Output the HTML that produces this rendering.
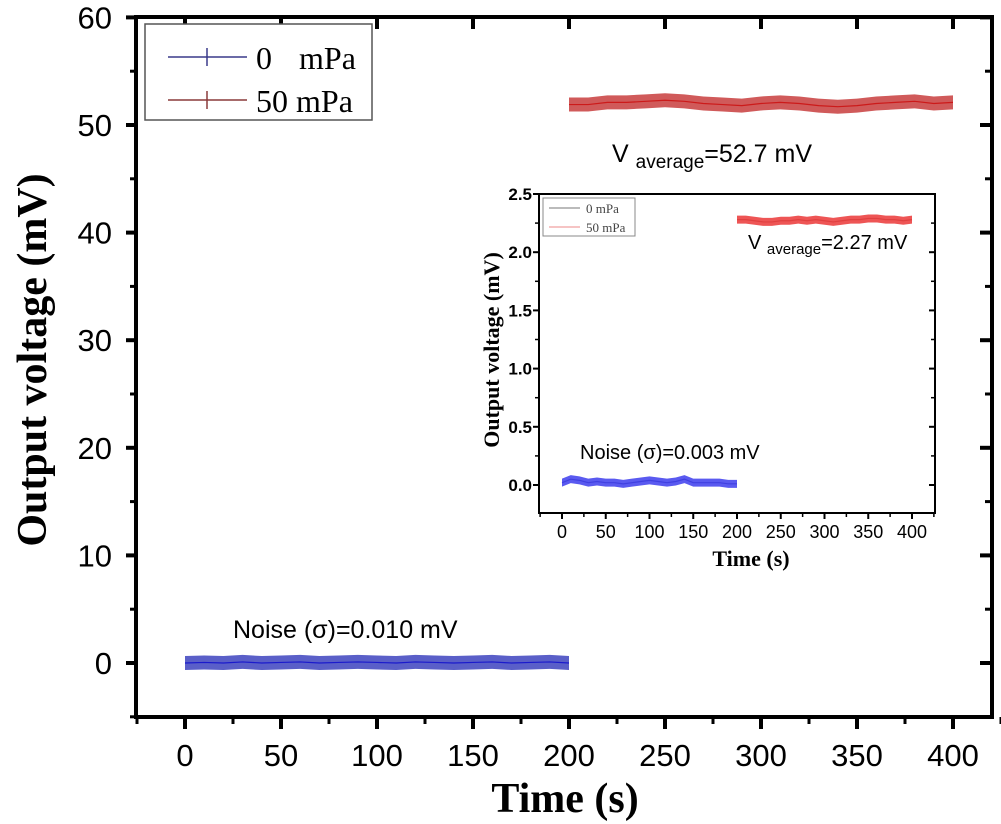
<!DOCTYPE html>
<html><head><meta charset="utf-8"><style>
body{margin:0;background:#fff;}
svg{display:block;font-family:"Liberation Sans",sans-serif;}
</style></head><body>
<svg id="c" width="1001" height="824" xmlns="http://www.w3.org/2000/svg"></svg>
<script>
const timeA=[0,10,20,30,40,50,60,70,80,90,100,110,120,130,140,150,160,170,180,190,200];
const timeB=[200,210,220,230,240,250,260,270,280,290,300,310,320,330,340,350,360,370,380,390,400];
const main0=[0,0.05,0,0.1,0,0.05,0.1,0,0.05,0.1,0.05,0,0.1,0.05,0,0.05,0.1,0,0.05,0.1,0];
const main50=[51.9,51.9,52.1,52.1,52.2,52.3,52.2,52.0,51.9,51.8,52.0,52.1,52.0,51.8,51.7,51.8,52.0,52.1,52.2,52.0,52.1];
const ins0=[0.02,0.05,0.04,0.02,0.03,0.02,0.02,0.01,0.02,0.03,0.04,0.03,0.02,0.03,0.05,0.02,0.02,0.02,0.02,0.01,0.01];
const ins50=[2.28,2.28,2.27,2.26,2.26,2.27,2.27,2.28,2.27,2.28,2.27,2.26,2.27,2.28,2.28,2.29,2.29,2.28,2.28,2.27,2.28];
const xTicks=[0,50,100,150,200,250,300,350,400];
const yTicksMain=[0,10,20,30,40,50,60];
const yTicksIns=[0.0,0.5,1.0,1.5,2.0,2.5];

const svg=document.getElementById('c');
const NS='http://www.w3.org/2000/svg';
function mk(tag,attrs,parent){const e=document.createElementNS(NS,tag);for(const k in attrs)e.setAttribute(k,attrs[k]);(parent||svg).appendChild(e);return e;}
function txt(s,attrs,parent){const e=mk('text',attrs,parent);e.textContent=s;return e;}

const mx=t=>185+t*(953-185)/400;
const my=v=>663-v*(663-17.4)/60;
const inx=t=>562+t*(912-562)/400;
const iny=v=>485-v*(485-194)/2.5;

function band(xs,ys,fx,fy,half,fill,line,name){
  let top=xs.map((t,i)=>fx(t)+','+(fy(ys[i])-half));
  let bot=xs.map((t,i)=>fx(t)+','+(fy(ys[i])+half)).reverse();
  const p=mk('polygon',{points:top.concat(bot).join(' '),fill:fill,stroke:'none'});
  
  
  const l=mk('polyline',{points:xs.map((t,i)=>fx(t)+','+fy(ys[i])).join(' '),fill:'none',stroke:line,'stroke-width':1.2});
  
  
}

const fr=mk('rect',{x:136,y:17,width:856,height:700,fill:'none',stroke:'#000','stroke-width':4});


xTicks.forEach(t=>{
  mk('line',{x1:mx(t),y1:717,x2:mx(t),y2:729,stroke:'#000','stroke-width':4});
  mk('line',{x1:mx(t),y1:17,x2:mx(t),y2:29,stroke:'#000','stroke-width':4});
  mk('line',{x1:mx(t+25),y1:717,x2:mx(t+25),y2:724,stroke:'#000','stroke-width':3});
  const l=txt(t,{x:mx(t),y:766,'font-size':31,'text-anchor':'middle'});
  
  
});
mk('line',{x1:mx(-25),y1:717,x2:mx(-25),y2:724,stroke:'#000','stroke-width':3});
yTicksMain.forEach(v=>{
  mk('line',{x1:136,y1:my(v),x2:126,y2:my(v),stroke:'#000','stroke-width':4});
  mk('line',{x1:992,y1:my(v),x2:980,y2:my(v),stroke:'#000','stroke-width':4});
  if(v<60){mk('line',{x1:136,y1:my(v+5),x2:130,y2:my(v+5),stroke:'#000','stroke-width':3});mk('line',{x1:992,y1:my(v+5),x2:985,y2:my(v+5),stroke:'#000','stroke-width':3});}
  const l=txt(v,{x:112,y:my(v)+11,'font-size':31,'text-anchor':'end'});
  
  
});
mk('line',{x1:136,y1:my(-5),x2:130,y2:my(-5),stroke:'#000','stroke-width':3});
const xt=txt('Time (s)',{x:565,y:812,'font-size':42,'font-weight':'bold','text-anchor':'middle','font-family':'Liberation Serif, serif'});


const yt=txt('Output voltage (mV)',{x:0,y:0,'font-size':42,'font-weight':'bold','text-anchor':'middle','font-family':'Liberation Serif, serif',transform:'translate(46,360) rotate(-90)'});



band(timeA,main0,mx,my,7,'#5a5fc8','#1a1acc','main-0mpa');
band(timeB,main50,mx,my,7,'#d05a5a','#cc1a1a','main-50mpa');

const n1=txt('Noise (σ)=0.010 mV',{x:233,y:638,'font-size':25});


const va=mk('text',{x:612,y:162,'font-size':25});


va.innerHTML='V <tspan font-size="19" dy="6">average</tspan><tspan dy="-6">=52.7 mV</tspan>';

const lg=mk('g',{});


mk('rect',{x:145,y:24,width:227,height:96,fill:'#fff',stroke:'#555','stroke-width':1.5},lg);
mk('line',{x1:168,y1:57,x2:247,y2:57,stroke:'#3a3a8a','stroke-width':1.5},lg);
mk('line',{x1:207,y1:48,x2:207,y2:66,stroke:'#3a3a8a','stroke-width':1.5},lg);
mk('line',{x1:168,y1:100,x2:247,y2:100,stroke:'#8a3a3a','stroke-width':1.5},lg);
mk('line',{x1:207,y1:91,x2:207,y2:109,stroke:'#8a3a3a','stroke-width':1.5},lg);
const a1=txt('0',{x:256,y:69,'font-size':32,'font-family':'Liberation Serif, serif'},lg);
txt('mPa',{x:299,y:69,'font-size':32,'font-family':'Liberation Serif, serif'},lg);
txt('50 mPa',{x:256,y:112,'font-size':32,'font-family':'Liberation Serif, serif'},lg);

const ig=mk('g',{});


mk('rect',{x:539,y:194,width:396,height:319,fill:'#fff',stroke:'#000','stroke-width':2},ig);
xTicks.forEach(t=>{
  mk('line',{x1:inx(t),y1:513,x2:inx(t),y2:519,stroke:'#000','stroke-width':2},ig);
  mk('line',{x1:inx(t+25),y1:513,x2:inx(t+25),y2:517,stroke:'#000','stroke-width':1.5},ig);
  txt(t,{x:inx(t),y:538,'font-size':18,'text-anchor':'middle'},ig);
});
mk('line',{x1:inx(-25),y1:513,x2:inx(-25),y2:517,stroke:'#000','stroke-width':1.5},ig);
yTicksIns.forEach(v=>{
  mk('line',{x1:539,y1:iny(v),x2:533,y2:iny(v),stroke:'#000','stroke-width':2},ig);
  mk('line',{x1:935,y1:iny(v),x2:929,y2:iny(v),stroke:'#000','stroke-width':2},ig);
  if(v<2.5){mk('line',{x1:935,y1:iny(v+0.25),x2:931,y2:iny(v+0.25),stroke:'#000','stroke-width':1.5},ig);mk('line',{x1:539,y1:iny(v+0.25),x2:535,y2:iny(v+0.25),stroke:'#000','stroke-width':1.5},ig);}
  txt(v.toFixed(1),{x:532,y:iny(v)+6,'font-size':17,'text-anchor':'end','font-weight':'bold'},ig);
});
txt('Time (s)',{x:751,y:566,'font-size':22,'font-weight':'bold','text-anchor':'middle','font-family':'Liberation Serif, serif'},ig);
txt('Output voltage (mV)',{x:0,y:0,'font-size':22,'font-weight':'bold','text-anchor':'middle','font-family':'Liberation Serif, serif',transform:'translate(499,350) rotate(-90)'},ig);
band(timeA,ins0,inx,iny,4,'#5a5af0','#4040e0','inset-0mpa');
band(timeB,ins50,inx,iny,4,'#ee5555','#e04040','inset-50mpa');
txt('Noise (σ)=0.003 mV',{x:580,y:459,'font-size':20},ig);
const iv=mk('text',{x:748,y:249,'font-size':20},ig);
iv.innerHTML='V <tspan font-size="15" dy="5">average</tspan><tspan dy="-5">=2.27 mV</tspan>';
mk('rect',{x:543,y:198,width:92,height:38,fill:'#fff',stroke:'#888','stroke-width':1},ig);
mk('line',{x1:549,y1:208,x2:580,y2:208,stroke:'#777','stroke-width':1},ig);
mk('line',{x1:549,y1:227,x2:580,y2:227,stroke:'#e88','stroke-width':1},ig);
txt('0   mPa',{x:586,y:213,'font-size':13,'font-family':'Liberation Serif, serif',fill:'#444'},ig).setAttribute('xml:space','preserve');
txt('50 mPa',{x:586,y:232,'font-size':13,'font-family':'Liberation Serif, serif',fill:'#444'},ig);
</script>
</body></html>
